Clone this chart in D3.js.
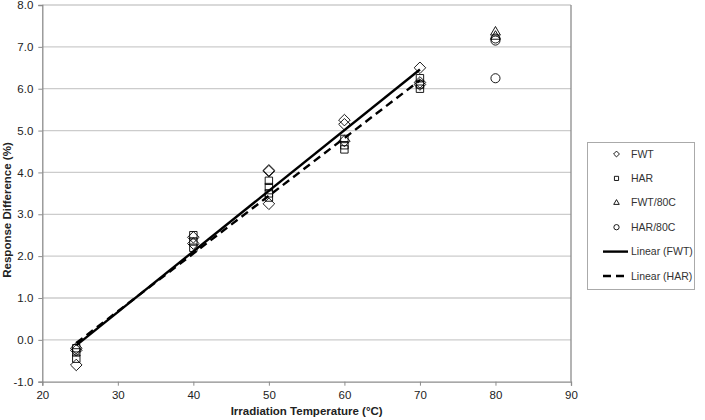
<!DOCTYPE html>
<html>
<head>
<meta charset="utf-8">
<script src="https://cdn.jsdelivr.net/npm/d3@7"></script>
<style>
  body { margin: 0; background: #fff; }
  svg { font-family: "Liberation Sans", Arial, sans-serif; }
</style>
</head>
<body>
<svg id="chart" width="705" height="420"></svg>
<script>
// data
const fwtX = [24.5, 24.5, 24.5, 40, 40, 50, 50, 50, 60, 60, 60, 70, 70, 70];
const fwtY = [-0.2, -0.25, -0.6, 2.45, 2.3, 4.05, 4.03, 3.25, 5.25, 5.15, 4.75, 6.5, 6.15, 6.1];
const harX = [24.5, 24.5, 24.5, 40, 40, 40, 50, 50, 50, 50, 60, 60, 60, 70, 70, 70];
const harY = [-0.3, -0.45, -0.2, 2.5, 2.2, 2.35, 3.8, 3.65, 3.5, 3.4, 4.8, 4.65, 4.55, 6.25, 6.1, 6.0];
const fwt80X = [80, 80];
const fwt80Y = [7.35, 7.25];
const har80X = [80, 80, 80];
const har80Y = [7.2, 7.15, 6.25];
const xTicks = [20, 30, 40, 50, 60, 70, 80, 90];
const yTicks = [-1, 0, 1, 2, 3, 4, 5, 6, 7, 8];
const legendLabels = ['FWT', 'HAR', 'FWT/80C', 'HAR/80C', 'Linear (FWT)', 'Linear (HAR)'];

const svg = d3.select('#chart');
const mLeft = 42.3, mRight = 571, mTop = 5, mBottom = 381.7;

const x = d3.scaleLinear().domain([20, 90]).range([mLeft, mRight]);
const y = d3.scaleLinear().domain([-1, 8]).range([mBottom, mTop]);

// gridlines
svg.append('g')
  .selectAll('line')
  .data(yTicks.filter(d => d > -1))
  .enter()
  .append('line')
  .attr('x1', mLeft)
  .attr('x2', mRight)
  .attr('y1', d => y(d))
  .attr('y2', d => y(d))
  .attr('stroke', '#cccccc')
  .attr('stroke-width', 1.3);

// right border
svg.append('line')
  .attr('x1', mRight).attr('x2', mRight)
  .attr('y1', mTop).attr('y2', mBottom)
  .attr('stroke', '#8c8c8c').attr('stroke-width', 1.3);

const xAxis = svg.append('g')
  .attr('transform', `translate(0,${mBottom})`)
  .call(d3.axisBottom(x).tickValues(xTicks).tickSize(4).tickPadding(5));
const yAxis = svg.append('g')
  .attr('transform', `translate(${mLeft},0)`)
  .call(d3.axisLeft(y).tickValues(yTicks).tickSize(4).tickPadding(4)
    .tickFormat(d => d.toFixed(1)));

[xAxis, yAxis].forEach(g => {
  g.select('.domain').attr('stroke', '#8c8c8c').attr('stroke-width', 1.3);
  g.selectAll('.tick line').attr('stroke', '#8c8c8c');
  g.selectAll('.tick text')
    .attr('fill', '#222')
    .style('font-size', '11.5px')
    .style('font-family', '"Liberation Sans", Arial, sans-serif');
});
yAxis.selectAll('.tick text').attr('dx', '-1');

// axis titles
svg.append('text')
  .attr('x', (mLeft + mRight) / 2)
  .attr('y', 415)
  .attr('text-anchor', 'middle')
  .style('font-size', '11.5px')
  .style('font-weight', 'bold')
  .attr('fill', '#222')
  .text('Irradiation Temperature (°C)');
svg.append('text')
  .attr('transform', 'translate(11,210) rotate(-90)')
  .attr('text-anchor', 'middle')
  .style('font-size', '11.5px')
  .style('font-weight', 'bold')
  .attr('fill', '#222')
  .text('Response Difference (%)');

// trend lines from least squares
function fit(xs, ys) {
  const mx = d3.mean(xs), my = d3.mean(ys);
  let sxy = 0, sxx = 0;
  xs.forEach((v, i) => { sxy += (v - mx) * (ys[i] - my); sxx += (v - mx) * (v - mx); });
  const b = sxy / sxx;
  const a = my - b * mx;
  return d3.extent(xs).map(v => [v, a + b * v]);
}
const line = d3.line().x(d => x(d[0])).y(d => y(d[1]));

svg.append('path')
  .attr('d', line(fit(fwtX, fwtY)))
  .attr('fill', 'none')
  .attr('stroke', '#000')
  .attr('stroke-width', 2.4);
svg.append('path')
  .attr('d', line(fit(harX, harY)))
  .attr('fill', 'none')
  .attr('stroke', '#000')
  .attr('stroke-width', 2.4)
  .attr('stroke-dasharray', '8,5');

// markers
const symbols = {
  FWT: d3.symbol().type(d3.symbolDiamond2).size(85),
  HAR: d3.symbol().type(d3.symbolSquare2).size(70),
  'FWT/80C': d3.symbol().type(d3.symbolTriangle2).size(70),
  'HAR/80C': d3.symbol().type(d3.symbolCircle).size(65)
};
const series = [
  { name: 'HAR', xs: harX, ys: harY },
  { name: 'FWT', xs: fwtX, ys: fwtY },
  { name: 'FWT/80C', xs: fwt80X, ys: fwt80Y },
  { name: 'HAR/80C', xs: har80X, ys: har80Y }
];
series.forEach(s => {
  svg.append('g')
    .selectAll('path')
    .data(s.xs.map((v, i) => [v, s.ys[i]]))
    .enter()
    .append('path')
    .attr('d', symbols[s.name])
    .attr('transform', d => `translate(${x(d[0])},${y(d[1])})`)
    .attr('fill', 'none')
    .attr('stroke', '#000')
    .attr('stroke-width', 0.9);
});

// legend
const legend = svg.append('g');
legend.append('rect')
  .attr('x', 587.5).attr('y', 142.5)
  .attr('width', 107).attr('height', 147)
  .attr('fill', '#fff')
  .attr('stroke', '#aaa');

const ly = d3.scalePoint().domain(legendLabels).range([154, 276]);
legendLabels.forEach((name, i) => {
  const yy = ly(name);
  if (i < 4) {
    legend.append('path')
      .attr('d', d3.symbol().type([d3.symbolDiamond2, d3.symbolSquare2, d3.symbolTriangle2, d3.symbolCircle][i]).size(22))
      .attr('transform', `translate(616.5,${yy})`)
      .attr('fill', 'none')
      .attr('stroke', '#000')
      .attr('stroke-width', 0.9);
  } else {
    legend.append('line')
      .attr('x1', 603).attr('x2', 628)
      .attr('y1', yy).attr('y2', yy)
      .attr('stroke', '#000')
      .attr('stroke-width', 2.4)
      .attr('stroke-dasharray', i === 5 ? '8,5' : null);
  }
  legend.append('text')
    .attr('x', 631)
    .attr('y', yy)
    .attr('dy', '0.35em')
    .style('font-size', '10.5px')
    .attr('fill', '#333')
    .text(name);
});
</script>
</body>
</html>
